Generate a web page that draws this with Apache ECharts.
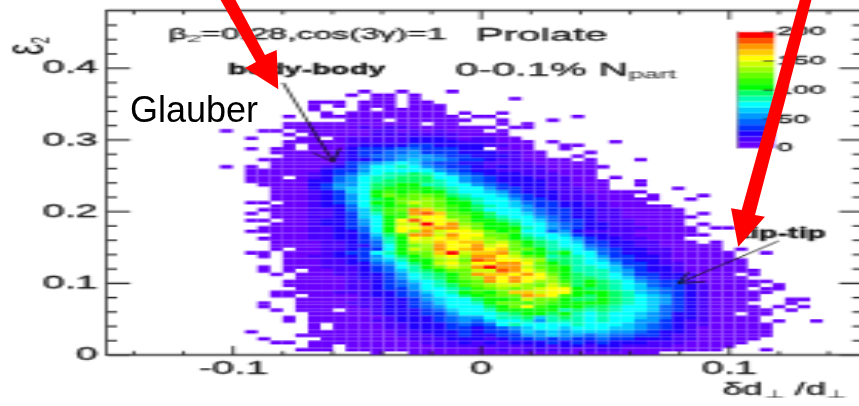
<!DOCTYPE html>
<html><head><meta charset="utf-8">
<style>
html,body{margin:0;padding:0;background:#fff;overflow:hidden;width:859px;height:406px}
#main{position:absolute;left:0;top:0;transform-origin:0 0}
#over{position:absolute;left:0;top:0;width:859px;height:406px}
</style>
<script src="https://cdn.jsdelivr.net/npm/echarts@6/dist/echarts.min.js"></script>
</head><body>
<div id="main"></div><div id="over"></div>
<script>
// --- data ---
// Colour band of every histogram bin, top row (epsilon about 0.365) first, one char per bin,
// '.' empty, 0-9 a-j = band number (each band is 10 counts).
const binBands = [
"..... ..... .0..0 ...0. ..... ..... ..... ..... ..... ....",
"..... ..... 0.00. 0.... ..... ..... ..... ..... ..... ....",
"..... ..... ..00. 0.... ...0. ..... ..... ..... ..... ....",
"..... ..000 .000. 00... ..... ..... ..... ..... ..... ....",
"..... ..0.0 .000. 000.. ..... ..... ..... ..... ..... ....",
"..... ..0.. .0.00 000.. ..... ..... ..... ..... ..... ....",
"..... ...0. 00000 000.0 ..0.. ..... ..... ..... ..... ....",
"..... 0..00 00000 0000. 00... ...0. ..... ..... ..... ....",
"..... ..... 000.0 00000 ..0.. .0... ..... ..... ..... ....",
"..... 00000 00000 0.00. ..0.0 ..... ..... ..... ..... ....",
"..... 00000 01011 00000 00.00 ..... ..... ..... ..... ....",
"0..00 .0000 00110 10100 0.0.. ..... ..... ..... ..... ....",
"..... 0.000 00111 11110 000.. ..... ..... ..... ..... ....",
"..0.. .00.0 11111 22210 1100. ..... ..... ..... ..... ....",
"..... 00000 11111 22221 11000 .0... .0... ..... ..... ....",
"..... 0.000 12222 33222 21100 ..00. ..... ..... ..... ....",
"..0.0 0.000 23334 43332 2.000 ..0.. ..... ..... ..... ....",
"....0 00001 23344 53332 22110 0...0 ..... ..... ..... ....",
"..... 00001 23445 55433 22210 0..0. ..... ..... ..... ....",
"...00 00001 22345 65543 32110 000.0 ...0. ..... ..... ....",
"....0 00001 34567 64332 21111 00000 ..... ..... ..... ....",
"0.0.0 00012 35778 75433 21211 10000 0.... ..... ..... ....",
"..000 00023 35777 77543 22111 10000 ..... ..... ..... ....",
"..000 00123 46788 98754 32221 11000 ..... ..... ..... ....",
"..000 .0124 57889 99775 43222 11100 .0... ..... ..... ....",
"..000 00224 57899 99875 43222 21100 0..0. ..... ..... ....",
"...00 00235 5799a a8877 54322 21100 0..0. ..... ..... ....",
"....0 00235 679aa aa987 75332 21110 0.... .0... ..... ....",
"....0 00123 67aba baa87 76532 22110 0000. ..... ..... ....",
"....0 00123 57acb ccb98 77643 22111 000.0 ...0. ..... ....",
"....0 00123 579ac cdca9 87753 32111 00000 ..0.. ..... ....",
"..00. 00123 57aac edcaa 87764 33221 1000. ..... ..... ....",
"....0 00122 479ab cdcba 98765 33221 10000 0.... ..... ....",
"...00 00112 469bc hgdba 97775 43322 11000 00... ..... ....",
"..0.0 00112 368bb higcb a9776 43322 11000 00.0. ..... ....",
"....0 00112 367ab effcc a9877 54322 11000 000.. ..... ....",
"..00. 00122 357af iffec aa987 64332 11100 00... ..... ....",
"....0 00122 357ae ejfhd caa97 75432 21100 00.0. ..... ....",
"...00 00112 347af fghhe caaa8 75432 21110 000.0 0.... ....",
"..000 00112 247af dheff ecab7 74521 11100 000.. ..... ....",
"....0 00112 2369b hhehf fcca8 77632 21100 0000. ..... ....",
"...00 00112 2358a fefgf edca9 87753 22110 00... ..... ....",
"....0 00011 2348a eegfg gdeca 98763 32211 000.0 ..... ....",
"....0 00011 2247a cdhff hefca 98774 32211 00000 ..... ....",
"....0 .0011 2337a edhfg hfgcc a8875 43221 10000 .0... ....",
"..00. 00012 3378a ccgje gghda a9a77 43221 10000 0..0. ....",
"...0. 00112 23579 acefd hhfec b8987 53322 10000 0.... ....",
"..... 00011 23568 aadec ihffe d9987 64322 10000 00... ....",
"..... 00011 22457 9aefd ffhhf ca987 75332 11000 00... ....",
"...0. 00011 12347 8aced hjhhe cba88 76432 21000 00... ....",
"...0. 0.001 12346 89acc eeihf dba88 86532 21000 000.. ....",
"....0 .0001 12235 789ac hggfh fca98 87533 22100 0.0.. ....",
"..... .0000 12235 789ac dhfhf fda99 87643 22100 00... ....",
"..... 00000 11234 678ab chfhf ddb9a 98754 33100 0000. ....",
"..... 00000 11234 5789b cdeed cec9a 98764 33210 000.0 ....",
"..... .0000 11233 57789 bcdcd effa9 98765 43210 00.00 ....",
"....0 00001 11223 4678a bacgg effaa a9865 43210 0000. ....",
"....0 0.000 01223 45779 abcch gfba9 a9876 53210 000.. ....",
"..... .0000 01122 35677 9aabe cca99 a9876 53210 000.. 00..",
"...0. .0000 11122 34677 8accb cbaaa a9876 53210 00... 0...",
"...0. .0000 01122 34577 79acf baaa9 98776 43210 000.0 .0..",
"....0 .000. 00122 23467 78aaa aa898 98776 43210 0000. 0...",
"..... ..000 00122 23357 7789a a9a87 87765 42210 0.00. ....",
"..... 0.000 00012 22345 57889 68987 87765 42210 000.. ....",
"..... 0.000 00112 22345 46778 58887 87755 32110 000.0 ..0.",
"..... ..0.0 00011 22234 34787 77787 77654 32110 0000. ....",
"..... ..0.0 00011 22233 23456 77677 76654 32100 0000. ....",
"..0.. ..000 00001 12223 23346 56566 65543 22100 0000. ....",
"..... .0000 00001 11223 22335 56554 54433 21100 0000. ....",
"...0. ...00 00000 11122 21233 43433 43322 21100 000.. ....",
"....0 0.000 00000 01112 12122 23232 32221 11000 00... ....",
"..... ..00. 00000 00111 11111 21221 22111 10000 0.... ....",
"..... .000. 00000 00000 00101 11101 11000 00000 ...0. ....",
"..... ..... ..0.. 00000 00000 00000 00000 ..... ..... ...."
];
const bandColors = ["#6a00ff","#4a00ff","#2200ff","#0033ff","#0066ff","#0099ff","#00ccff","#00ffff","#00ffb3","#00ff66",
                    "#00ff00","#33ff00","#66ff00","#99ff00","#ccff00","#ffff00","#ffcc00","#ff9900","#ff5500","#ff0000"];
const bandCounts = bandColors.map((c, i) => i * 10);
const xMajorTicks = [-0.1, 0, 0.1];
const xMinorTicks = [-0.14, -0.12, -0.08, -0.06, -0.04, -0.02, 0.02, 0.04, 0.06, 0.08, 0.12, 0.14];
const yMajorTicks = [0, 0.1, 0.2, 0.3, 0.4];
const yMinorTicks = [0.02, 0.04, 0.06, 0.08, 0.12, 0.14, 0.16, 0.18, 0.22, 0.24, 0.26, 0.28, 0.32, 0.34, 0.36, 0.38, 0.42, 0.44, 0.46];
const paletteTicks = [50, 100, 150, 200];

// --- layout: the source picture is a small plot stretched sideways ---
const SX = 3.08, SY = 1.4, W = 859, H = 406;
const px = v => v / SX, py = v => v / SY;
const mainEl = document.getElementById('main');
mainEl.style.width = (W / SX) + 'px';
mainEl.style.height = (H / SY) + 'px';
mainEl.style.transform = `scale(${SX},${SY})`;

const X_MIN = -0.1508, X_MAX = 0.1536, Y_MIN = 0, Y_MAX = 0.4805;
const BIN_W = 0.00506, BIN_H = 0.005;

const cells = [];
binBands.forEach((row, i) => {
  const r = binBands.length - 1 - i;
  row.replace(/ /g, '').split('').forEach((ch, c) => {
    if (ch === '.') return;
    const band = parseInt(ch, 20);
    cells.push([X_MIN + (c + 9) * BIN_W, r * BIN_H, band]);
  });
});

const ink = '#1a1a1a';
const lineCol = '#4a4a4a';
const tickCol = '#222222';
const fam = '"Liberation Sans",Arial,sans-serif';
const heavy = {textBorderColor: ink, textBorderWidth: 0.3};
const heavyG = {stroke: ink, lineWidth: 0.3};

function rectItem(params, api) {
  const x = api.value(0), y = api.value(1);
  const a = api.coord([x, y + BIN_H]), b = api.coord([x + BIN_W, y]);
  return {type: 'rect', shape: {x: a[0], y: a[1], width: b[0] - a[0], height: b[1] - a[1]},
          style: {fill: bandColors[api.value(2)], stroke: 'rgba(255,255,255,0.07)', lineWidth: 0.2}};
}
function barItem(params, api) {
  const v = api.value(1);
  const a = api.coord([0, v + 10]), b = api.coord([1, v]);
  return {type: 'rect', shape: {x: a[0], y: a[1], width: b[0] - a[0], height: b[1] - a[1]},
          style: {fill: bandColors[api.value(0)]}};
}
const noLine = {show: false}, noTick = {show: false};
const xBottom = {type: 'value', gridIndex: 0, position: 'bottom', min: X_MIN, max: X_MAX, splitLine: noLine,
  axisLine: {show: true, onZero: false, lineStyle: {color: lineCol, width: 1.3}}, axisTick: noTick,
  axisLabel: Object.assign({show: true, customValues: xMajorTicks, margin: 3, color: ink, fontFamily: fam, fontSize: 13,
    formatter: v => String(Math.round(v * 10) / 10)}, heavy)};
const xTop = {type: 'value', gridIndex: 0, position: 'top', min: X_MIN, max: X_MAX, splitLine: noLine,
  axisLine: {show: true, onZero: false, lineStyle: {color: lineCol, width: 1.3}}, axisTick: noTick, axisLabel: {show: false}};
const yLeft = {type: 'value', gridIndex: 0, position: 'left', min: Y_MIN, max: Y_MAX, splitLine: noLine,
  axisLine: {show: true, onZero: false, lineStyle: {color: lineCol, width: 0.9}}, axisTick: noTick,
  axisLabel: Object.assign({show: true, customValues: yMajorTicks, margin: 3, color: ink, fontFamily: fam, fontSize: 13,
    padding: [3, 0, 0, 0], formatter: v => String(Math.round(v * 10) / 10)}, heavy),
  name: '{e|ε}{s|2}', nameLocation: 'end', nameRotate: 90, nameGap: -py(40),
  nameTextStyle: {align: 'center', verticalAlign: 'bottom', padding: [0, 0, px(53), 0], color: ink, fontFamily: fam,
    rich: {e: {fontSize: 18, color: ink, fontFamily: fam}, s: {fontSize: 9, color: ink, fontFamily: fam, verticalAlign: 'bottom', padding: [6, 0, 0, 0]}}}};
const yRight = {type: 'value', gridIndex: 0, position: 'right', min: Y_MIN, max: Y_MAX, splitLine: noLine,
  axisLine: {show: true, onZero: false, lineStyle: {color: lineCol, width: 0.9}}, axisTick: noTick, axisLabel: {show: false}};

function txt(x, y, text, fontSize, extra) {
  return {type: 'text', x: px(x), y: py(y), silent: true, z: 100,
    style: Object.assign({text, fontSize, fontFamily: fam, fill: ink, textVerticalAlign: 'middle'}, heavyG, extra || {})};
}
function arrowPts(list) { return list.map(p => [px(p[0]), py(p[1])]); }
function blackLine(list, w) {
  return {type: 'polyline', silent: true, z: 100, shape: {points: arrowPts(list)}, style: {stroke: '#101010', lineWidth: w, fill: null}};
}

const annotations = [
  {type: 'text', x: px(168), y: py(35), silent: true, z: 100, style: {
    text: '{g|β}{s|2}{g|=0.28,cos(3γ)=1}', fontFamily: fam, fill: ink, textVerticalAlign: 'middle',
    rich: {g: Object.assign({fontSize: 11, fontFamily: fam, fill: ink}, heavyG), s: {fontSize: 8, fontFamily: fam, fill: ink, padding: [6, 0, 0, 0]}}}},
  txt(476, 36, 'Prolate', 13.5),
  {type: 'text', x: px(455), y: py(70), silent: true, z: 100, style: {
    text: '{g|0-0.1% N}{s|part}', fontFamily: fam, fill: ink, textVerticalAlign: 'middle',
    rich: {g: Object.assign({fontSize: 13.5, fontFamily: fam, fill: ink}, heavyG), s: {fontSize: 9, fontFamily: fam, fill: ink, padding: [7, 0, 0, 0]}}}},
  txt(228, 71, 'body-body', 10, {fontWeight: 'bold', fill: '#111'}),
  txt(740, 234, 'tip-tip', 10, {fontWeight: 'bold', fill: '#111'}),
  {type: 'text', x: px(722), y: py(390), silent: true, z: 100, style: {
    text: '{a|δd}{s|⊥}{a| /d}{s|⊥}', fontFamily: fam, fill: ink, textVerticalAlign: 'middle',
    rich: {a: Object.assign({fontSize: 12, fontFamily: fam, fill: ink}, heavyG), s: {fontSize: 8, fontFamily: fam, fill: ink, padding: [6, 0, 0, 0]}}}},
  blackLine([[283, 82.7], [333, 161.7]], 0.8),
  blackLine([[312.7, 152.7], [333, 161.7], [340, 148]], 0.8),
  blackLine([[778.3, 241], [678.3, 283.3]], 0.8),
  blackLine([[688.3, 272.3], [678.3, 283.3], [705, 281.7]], 0.8)
];

const main = echarts.init(mainEl);
main.setOption({
  animation: false,
  backgroundColor: '#fff',
  grid: [
    {left: px(107), right: px(W - 862), top: py(10.5), bottom: py(H - 355), outerBoundsMode: 'none'},
    {left: px(738), width: px(36), top: py(32), height: py(116), outerBoundsMode: 'none'}
  ],
  xAxis: [xBottom, xTop, {type: 'value', gridIndex: 1, min: 0, max: 1, show: false}],
  yAxis: [yLeft, yRight,
    {type: 'value', gridIndex: 1, position: 'right', min: 0, max: 200, interval: 50, splitLine: noLine,
     axisLine: {show: true, lineStyle: {color: lineCol, width: 0.5}}, axisTick: noTick,
     axisLabel: Object.assign({show: true, margin: 1, color: ink, fontFamily: fam, fontSize: 9.3, padding: [3, 0, 0, 0]}, heavy)}],
  series: [
    {type: 'custom', name: 'counts', xAxisIndex: 0, yAxisIndex: 0, coordinateSystem: 'cartesian2d', renderItem: rectItem,
     encode: {x: 0, y: 1}, data: cells, clip: true, silent: true, z: 2},
    {type: 'custom', name: 'palette', xAxisIndex: 2, yAxisIndex: 2, coordinateSystem: 'cartesian2d', renderItem: barItem,
     encode: {y: 1}, data: bandCounts.map((v, i) => [i, v]), silent: true, z: 2}
  ],
  graphic: annotations
});

// ticks of all four frame sides, placed through the axes' own scales
function tick(a, b, w) {
  return {type: 'line', silent: true, z: 90, shape: {x1: a[0], y1: a[1], x2: b[0], y2: b[1]}, style: {stroke: tickCol, lineWidth: w}};
}
const toPx = (p, g) => main.convertToPixel({xAxisIndex: g ? 2 : 0, yAxisIndex: g ? 2 : 0}, p);
const tickEls = [];
function addX(v, len) {
  const b = toPx([v, Y_MIN]), t = toPx([v, Y_MAX]);
  tickEls.push(tick(b, [b[0], b[1] - py(len)], 0.8), tick(t, [t[0], t[1] + py(len)], 0.8));
}
function addY(v, len) {
  const l = toPx([X_MIN, v]), r = toPx([X_MAX, v]);
  tickEls.push(tick(l, [l[0] + px(len), l[1]], 1.1), tick(r, [r[0] - px(len), r[1]], 1.1));
}
xMajorTicks.forEach(v => addX(v, 9));
xMinorTicks.forEach(v => addX(v, 4));
yMajorTicks.forEach(v => addY(v, 23));
yMinorTicks.forEach(v => addY(v, 10));
paletteTicks.forEach(v => {
  const p = toPx([1, v], 1);
  tickEls.push(tick(p, [p[0] - px(11), p[1]], 0.7));
});
main.setOption({graphic: annotations.concat(tickEls)});

// the red arrows and the word Glauber were pasted on top of the plot, sharp
const over = echarts.init(document.getElementById('over'));
const redA = [[220, -1], [235, -1], [265, 55], [276.7, 50], [278.3, 89.3], [245, 68], [256, 62]];
const redB = [[800, -1], [811.7, -1], [755, 215], [765, 216.7], [738.3, 246.7], [731, 208.3], [741.7, 210]];
over.setOption({
  animation: false,
  graphic: [
    {type: 'polygon', silent: true, shape: {points: redA}, style: {fill: '#ff0000'}},
    {type: 'polygon', silent: true, shape: {points: redB}, style: {fill: '#ff0000'}},
    {type: 'text', x: 130, y: 112, silent: true, style: {text: 'Glauber', fontFamily: fam, fontSize: 36, fill: '#000', textVerticalAlign: 'middle'}}
  ]
});
</script>
</body></html>
